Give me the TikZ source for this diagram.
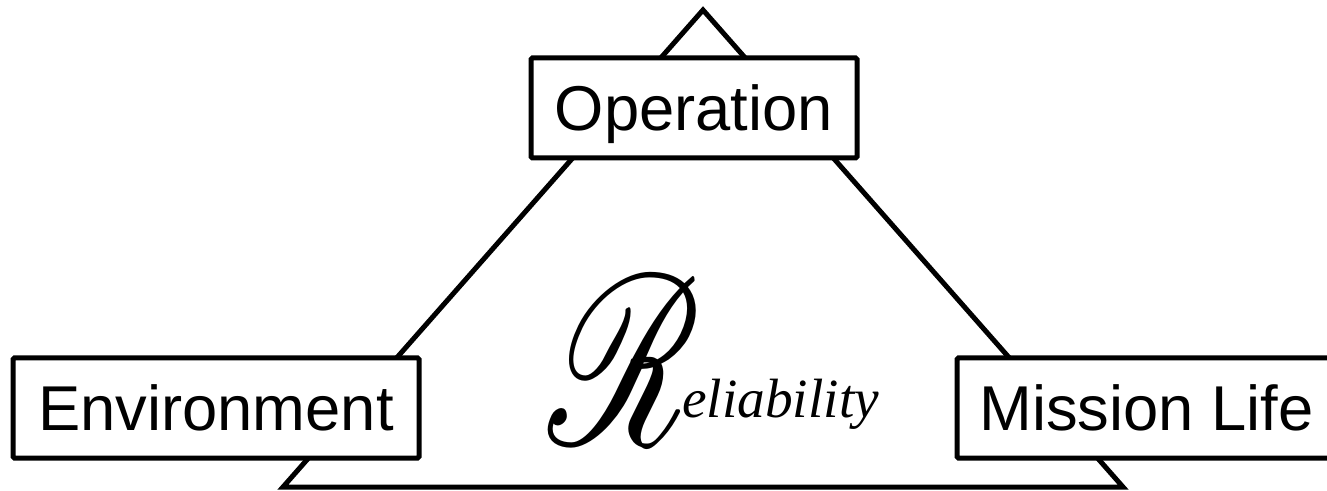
\documentclass[tikz,border=0pt]{standalone}
\usepackage{fontspec}
\usepackage{graphicx}
\usepackage{mathrsfs}
\usepackage{tikz}
\newfontfamily\boxfont{Liberation Sans}
\newfontfamily\wordfont{Liberation Serif}

\begin{document}
\begin{tikzpicture}[x=0.75pt, y=-0.75pt,
    factor/.style={draw, rectangle, line width=3.75pt, fill=white, rounded corners=1pt, inner sep=0pt, minimum height=75pt, text height=34pt, text depth=0pt, font=\boxfont\fontsize{47.5}{50}\selectfont}]
\clip (0,0) rectangle (1327,491);
\coordinate (apex) at (703,10);
\coordinate (baseleft) at (283,487);
\coordinate (baseright) at (1123,487);
\draw[line width=3.75pt] (apex) -- (baseleft) -- (baseright) -- cycle;
\node[factor, minimum width=244.5pt] (operation) at (694,108) {Operation};
\node[factor, minimum width=304.5pt] (environment) at (216,408) {Environment};
\node[factor, minimum width=284pt] (mission) at (1146.5,408) {Mission Life};
\node[inner sep=0pt, anchor=north west] (bigR) at (548,276) {\scalebox{1}[1.45]{\resizebox{114pt}{!}{$\mathscr{R}$}}};
\node[inner sep=0pt, anchor=base west, font=\wordfont\itshape\fontsize{41.5}{41.5}\selectfont] (rest) at (682,417) {eliability};
\end{tikzpicture}
\end{document}
